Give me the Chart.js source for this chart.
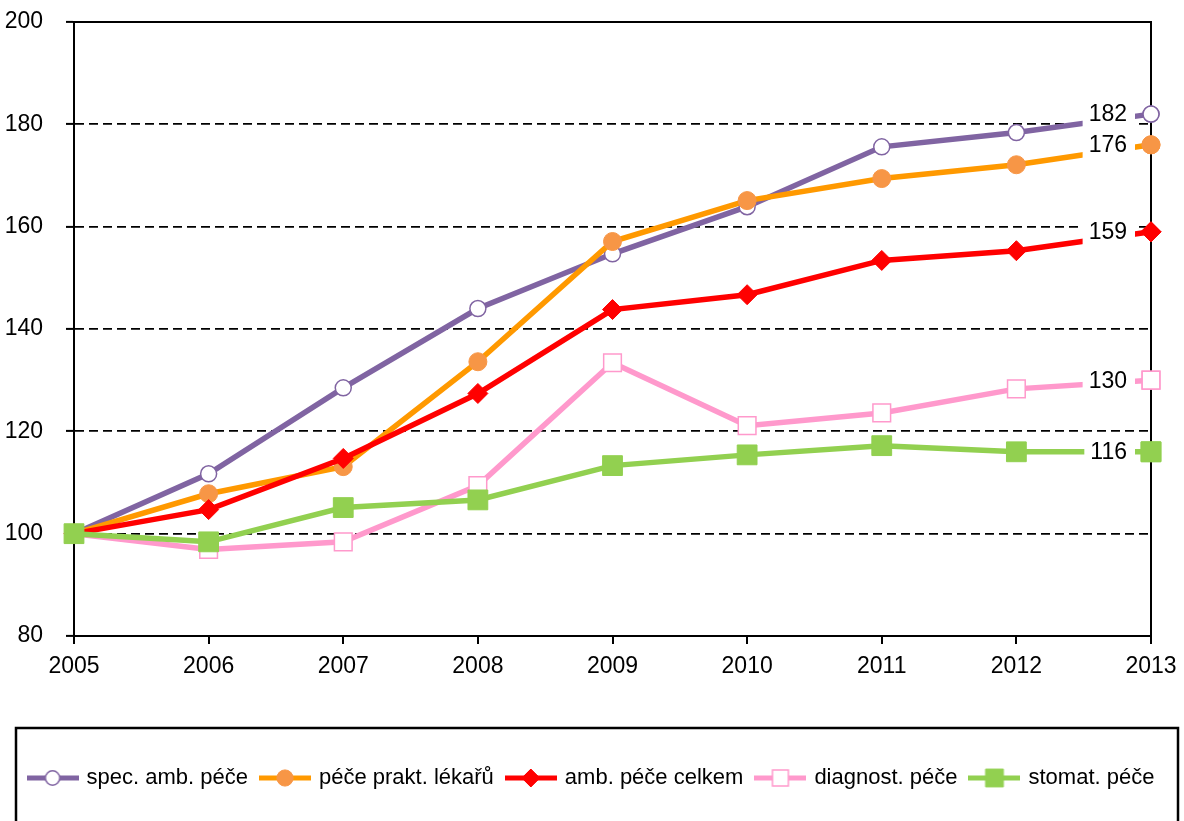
<!DOCTYPE html>
<html>
<head>
<meta charset="utf-8">
<script src="https://cdn.jsdelivr.net/npm/chart.js@4/dist/chart.umd.min.js"></script>
<style>
  html, body { margin: 0; padding: 0; background: #fff; }
  #wrap { width: 1184px; height: 821px; }
</style>
</head>
<body>
<div id="wrap"><canvas id="c" width="1184" height="821"></canvas></div>
<script>
// Index values, 2005 = 100
const years = ['2005', '2006', '2007', '2008', '2009', '2010', '2011', '2012', '2013'];
const specAmb   = [100, 111.7, 128.5, 144.0, 154.7, 163.9, 175.6, 178.4, 182];
const praktLek  = [100, 107.8, 113.1, 133.6, 157.1, 165.1, 169.4, 172.1, 176];
const ambCelkem = [100, 104.7, 114.7, 127.4, 143.8, 146.7, 153.4, 155.3, 159];
const diagnost  = [100, 96.9, 98.4, 109.4, 133.4, 121.1, 123.6, 128.3, 130];
const stomat    = [100, 98.4, 105.1, 106.6, 113.3, 115.4, 117.2, 116.0, 116];
const seriesNames = ['spec. amb. péče', 'péče prakt. lékařů', 'amb. péče celkem', 'diagnost. péče', 'stomat. péče'];
const yTicks = [80, 100, 120, 140, 160, 180, 200];

const FONT = '"Liberation Sans", Arial, sans-serif';
const TICK_SIZE = 23;
const LEGEND_SIZE = 22;

const styles = [
  { line: '#8064A2', fill: '#FFFFFF', border: '#8064A2', point: 'circle',  radius: 8,    bw: 1.5 },
  { line: '#FF9900', fill: '#F79646', border: '#F79646', point: 'circle',  radius: 9,    bw: 1 },
  { line: '#FF0000', fill: '#FF0000', border: '#FF0000', point: 'rectRot', radius: 10,   bw: 1 },
  { line: '#FF99CC', fill: '#FFFFFF', border: '#FF99CC', point: 'rect',    radius: 12.5, bw: 1.5 },
  { line: '#92D050', fill: '#92D050', border: '#92D050', point: 'rect',    radius: 14,   bw: 1 }
];
const values = [specAmb, praktLek, ambCelkem, diagnost, stomat];

// Legend symbol: a short line with the series marker in the middle
function legendSymbol(s) {
  const cv = document.createElement('canvas');
  cv.width = 52; cv.height = 28;
  const ctx = cv.getContext('2d');
  ctx.strokeStyle = s.line; ctx.lineWidth = 5;
  ctx.beginPath(); ctx.moveTo(0, 14); ctx.lineTo(52, 14); ctx.stroke();
  ctx.fillStyle = s.fill; ctx.strokeStyle = s.border; ctx.lineWidth = s.bw;
  Chart.helpers.drawPoint(ctx, { pointStyle: s.point, radius: s.radius * 0.9, rotation: 0, borderWidth: s.bw }, 26, 14);
  return cv;
}

// later series are drawn on top of earlier ones
const datasets = values.map((v, i) => ({
  label: seriesNames[i],
  data: v,
  borderColor: styles[i].line,
  borderWidth: 5.5,
  backgroundColor: styles[i].fill,
  pointStyle: styles[i].point,
  pointRadius: styles[i].radius,
  pointHoverRadius: styles[i].radius,
  pointBackgroundColor: styles[i].fill,
  pointBorderColor: styles[i].border,
  pointBorderWidth: styles[i].bw,
  tension: 0,
  clip: false,
  order: values.length - 1 - i
}));

// Value labels on the last point, on a white box that hides the line behind them
const endLabels = {
  id: 'endLabels',
  afterDatasetsDraw(chart) {
    const ctx = chart.ctx;
    ctx.save();
    ctx.font = TICK_SIZE + 'px ' + FONT;
    ctx.textAlign = 'right';
    ctx.textBaseline = 'middle';
    chart.data.datasets.forEach((ds, i) => {
      const meta = chart.getDatasetMeta(i);
      const last = meta.data[meta.data.length - 1];
      const txt = String(Math.round(ds.data[ds.data.length - 1]));
      const right = last.x - 24;
      const w = ctx.measureText(txt).width;
      ctx.fillStyle = '#FFFFFF';
      ctx.fillRect(right - w - 6, last.y - 16, w + 14, 32);
      ctx.fillStyle = '#000000';
      ctx.fillText(txt, right, last.y + 1);
    });
    // redraw the end markers above the boxes
    chart.data.datasets.forEach((ds, i) => {
      const meta = chart.getDatasetMeta(i);
      meta.data[meta.data.length - 1].draw(ctx, chart.chartArea);
    });
    ctx.restore();
  }
};

// Plot frame and legend frame
const frames = {
  id: 'frames',
  beforeDatasetsDraw(chart) {
    const a = chart.chartArea, ctx = chart.ctx;
    ctx.save();
    ctx.strokeStyle = '#000'; ctx.lineWidth = 2;
    ctx.strokeRect(a.left, a.top, a.right - a.left, a.bottom - a.top);
    ctx.restore();
  },
  afterDraw(chart) {
    const ctx = chart.ctx;
    const lg = chart.legend;
    const hb = lg.legendHitBoxes[0];
    const cy = hb ? hb.top + hb.height / 2 : 778;
    ctx.save();
    ctx.strokeStyle = '#000'; ctx.lineWidth = 2.5;
    ctx.strokeRect(16, cy - 50, chart.width - 22, 140);
    ctx.restore();
  }
};

new Chart(document.getElementById('c'), {
  type: 'line',
  data: { labels: years, datasets },
  plugins: [frames, endLabels],
  options: {
    responsive: false,
    animation: false,
    layout: { padding: { top: 22, right: 0, bottom: 22, left: 0 } },
    plugins: {
      title: { display: false },
      tooltip: { enabled: false },
      legend: {
        position: 'bottom',
        labels: {
          usePointStyle: true,
          pointStyleWidth: 46,
          boxHeight: LEGEND_SIZE,
          padding: 14,
          color: '#000',
          font: { family: FONT, size: LEGEND_SIZE },
          generateLabels(chart) {
            return chart.data.datasets.map((ds, i) => ({
              text: ds.label,
              pointStyle: legendSymbol(styles[i]),
              fillStyle: styles[i].fill,
              strokeStyle: styles[i].line,
              lineWidth: 0,
              hidden: false,
              datasetIndex: i,
              fontColor: '#000'
            }));
          }
        }
      }
    },
    scales: {
      x: {
        type: 'category',
        offset: false,
        grid: { display: true, drawOnChartArea: false, drawTicks: true, tickLength: 8, color: '#000', lineWidth: 2 },
        border: { display: true, color: '#000', width: 2 },
        ticks: { color: '#000', font: { family: FONT, size: TICK_SIZE }, padding: 9, maxRotation: 0, autoSkip: false },
        afterFit(scale) {
          scale.height = 117;
          scale.paddingLeft = 0;
          scale.paddingRight = 33;
        }
      },
      y: {
        min: 80, max: 200,
        afterBuildTicks(scale) { scale.ticks = yTicks.map(v => ({ value: v })); },
        grid: {
          color: '#000', lineWidth: 1.8, drawTicks: true, tickLength: 8,
          tickColor: '#000', tickWidth: 2, tickBorderDash: []
        },
        border: { display: true, color: '#000', width: 2, dash: [9, 5] },
        ticks: { color: '#000', font: { family: FONT, size: TICK_SIZE }, padding: 23 },
        afterFit(scale) {
          scale.width = 74;
          scale.paddingTop = 0;
          scale.paddingBottom = 0;
        }
      }
    }
  }
});
</script>
</body>
</html>
